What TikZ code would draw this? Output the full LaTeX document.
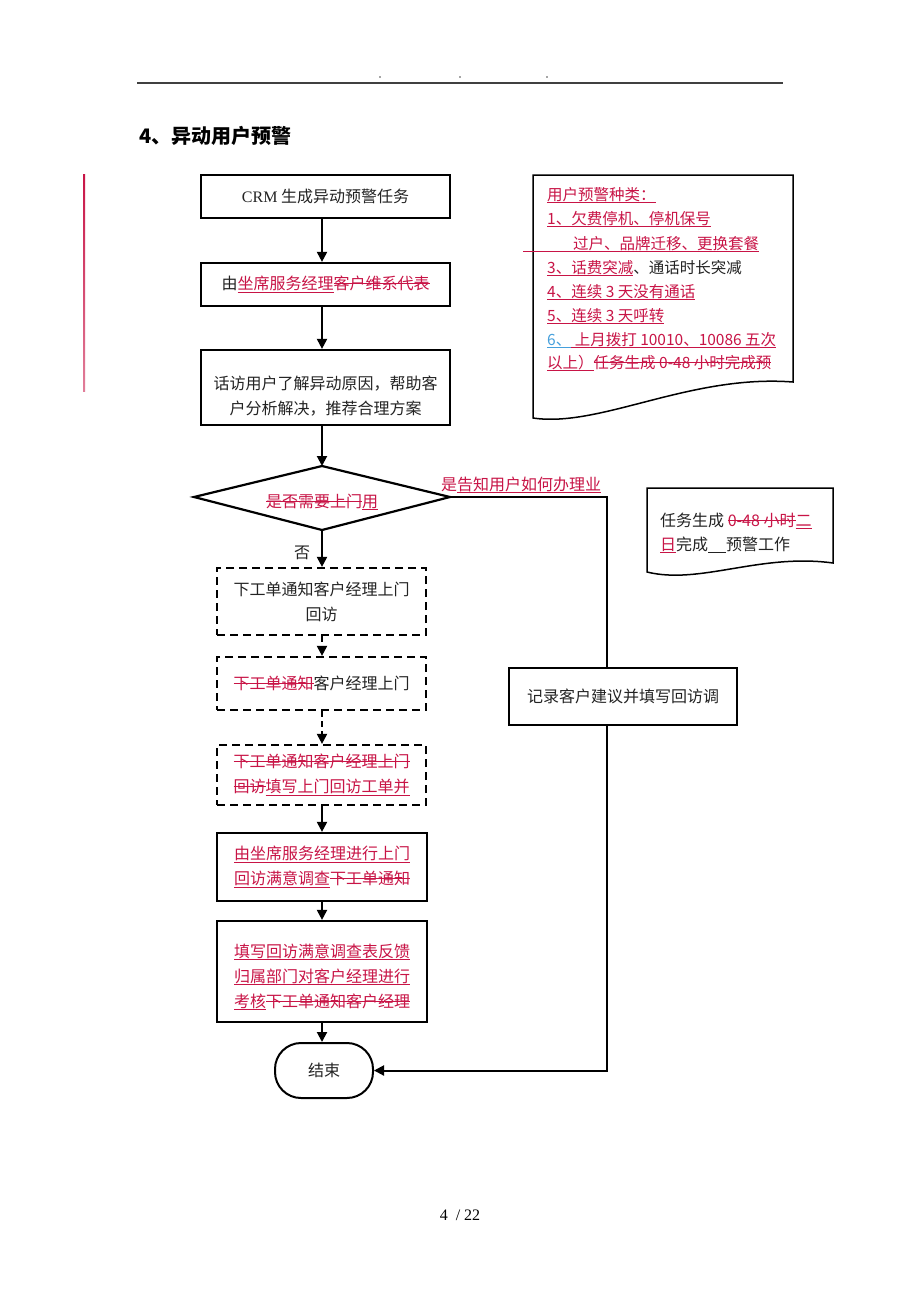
\documentclass[tikz,border=0pt]{standalone}
\usepackage{fontspec}
\setmainfont{Liberation Serif}
\newfontfamily\cjk{Noto Sans CJK SC}
\usetikzlibrary{arrows.meta}
\definecolor{rd}{RGB}{200,20,70}
\definecolor{bl}{RGB}{70,160,220}
\definecolor{tx}{RGB}{35,35,35}
\newcommand{\myul}[1]{\setbox0\hbox{#1}\rlap{\rule[-3pt]{\wd0}{1pt}}\box0}
\newcommand{\myso}[1]{\setbox0\hbox{#1}\rlap{\rule[5.5pt]{\wd0}{1pt}}\box0}
\newcommand{\redu}[1]{\textcolor{rd}{\myul{#1}}}
\newcommand{\reds}[1]{\textcolor{rd}{\myso{#1}}}
\begin{document}
\begin{tikzpicture}[x=1pt,y=-1pt,
  every node/.style={font=\cjk\fontsize{16}{25}\selectfont, text=tx, inner sep=0pt},
  box/.style={draw=black, line width=2.2pt, align=center},
  dbox/.style={draw=black, line width=2.2pt, dash pattern=on 8pt off 5pt, align=center},
  arr/.style={line width=2pt, -{Triangle[length=10pt,width=10pt]}},
  darr/.style={line width=2pt, dash pattern=on 6pt off 4pt, -{Triangle[length=10pt,width=10pt]}},
  doc/.style={draw=black, line width=1.5pt},
  doctext/.style={anchor=base west, font=\cjk\fontsize{15.5}{24}\selectfont}]
\fill[white] (0,0) rectangle (920,1302);
\useasboundingbox (0,0) rectangle (920,1302);

% header
\draw[black!75, line width=1.2pt] (137,83) -- (783,83);
\foreach \xx in {380,460,547} \fill[black!70] (\xx,77) circle (0.8pt);
\node[anchor=base west, font=\cjk\bfseries\fontsize{20}{24}\selectfont, text=black] (title) at (139,143) {4、异动用户预警};
\shade[top color=rd, bottom color=rd!55] (83,174) rectangle (85,391);

% main column
\node[box, minimum width=249pt, minimum height=43pt] (b1) at (325.5,196.5) {{\rmfamily CRM} 生成异动预警任务};
\node[box, minimum width=249pt, minimum height=43pt] (b2) at (325.5,284.5) {由\redu{坐席服务经理}\reds{客户维系代表}};
\node[box, minimum width=249pt, minimum height=75pt] (b3) at (325.5,387.5) {};
\node[align=center] (b3t) at (325.5,396) {话访用户了解异动原因，帮助客\\户分析解决，推荐合理方案};

\coordinate (dtop) at (322,466);
\coordinate (dbot) at (322,530);
\coordinate (dleft) at (194,497);
\coordinate (dright) at (450,497);
\draw[line width=2.2pt, line join=miter] (dtop) -- (dright) -- (dbot) -- (dleft) -- cycle;
\node (dtext) at (322,502) {\reds{是否需要上门}\redu{用}};

\node[dbox, minimum width=209pt, minimum height=67pt] (da) at (321.5,601.5) {下工单通知客户经理上门\\回访};
\node[dbox, minimum width=209pt, minimum height=53pt] (db) at (321.5,683.5) {\reds{下工单通知}客户经理上门};
\node[dbox, minimum width=209pt, minimum height=60pt] (dc) at (321.5,775) {\reds{下工单通知客户经理上门}\\\reds{回访}\redu{填写上门回访工单并}};
\node[box, minimum width=210pt, minimum height=68pt] (bd) at (322,867) {\redu{由坐席服务经理进行上门}\\\redu{回访满意调查}\reds{下工单通知}};
\node[box, minimum width=210pt, minimum height=101pt] (be) at (322,971.5) {};
\node[align=center] (bet) at (322,977) {\redu{填写回访满意调查表反馈}\\\redu{归属部门对客户经理进行}\\\redu{考核}\reds{下工单通知客户经理}};
\node[draw=black, line width=2pt, rounded corners=26pt, minimum width=98pt, minimum height=55pt] (end) at (324,1070.5) {结束};

\node[box, minimum width=228pt, minimum height=57pt] (rb) at (623,696.5) {记录客户建议并填写回访调};

% labels
\node[anchor=base west] (yes) at (441,490) {\textcolor{rd}{是}\redu{告知用户如何办理业}};
\node (no) at (302,553) {否};

% connectors
\draw[arr] (b1.south -| dtop) -- (b2.north -| dtop);
\draw[arr] (b2.south -| dtop) -- (b3.north -| dtop);
\draw[arr] (b3.south -| dtop) -- (dtop);
\draw[arr] (dbot) -- (da.north -| dbot);
\draw[darr] (da.south -| dtop) -- (db.north -| dtop);
\draw[darr] (db.south -| dtop) -- (dc.north -| dtop);
\draw[arr] (dc.south -| dtop) -- (bd.north -| dtop);
\draw[arr] (bd.south -| dtop) -- (be.north -| dtop);
\draw[arr] (be.south -| dtop) -- (end.north -| dtop);
\draw[line width=2pt] (dright) -| ([xshift=-16pt]rb.north);
\draw[arr] ([xshift=-16pt]rb.south) |- (end.east);

% document shape 1
\draw[doc] (533,175) -- (793,175) -- (793,382) .. controls (690,374) and (600,428) .. (533,418) -- cycle;
\node[doctext] (t1) at (547,200) {\redu{用户预警种类：}};
\node[doctext] (t2) at (547,224) {\redu{1、欠费停机、停机保号}};
\node[doctext] (t3) at (523,249) {\redu{\hspace*{50pt}过户、品牌迁移、更换套餐}};
\node[doctext] (t4) at (547,273) {\redu{3、话费突减}、通话时长突减};
\node[doctext] (t5) at (547,297) {\redu{4、连续 3 天没有通话}};
\node[doctext] (t6) at (547,321) {\redu{5、连续 3 天呼转}};
\node[doctext] (t7) at (547,345) {\textcolor{bl}{\myul{6、}}\redu{\ 上月拨打 10010、10086 五次}};
\node[doctext] (t8) at (547,368) {\redu{以上）}\reds{任务生成 0-48 小时完成预}};

% document shape 2
\draw[doc] (647,488) -- (833,488) -- (833,563) .. controls (760,553) and (700,585) .. (647,572) -- cycle;
\node[doctext, font=\cjk\fontsize{16}{24}\selectfont] (u1) at (660,526) {任务生成 \reds{0-48 小时}\redu{二}};
\node[doctext, font=\cjk\fontsize{16}{24}\selectfont] (u2) at (660,550) {\redu{日}完成\rule[-3pt]{18pt}{1pt}预警工作};

% page number
\node[font=\rmfamily\fontsize{16}{20}\selectfont, text=black] (pg) at (460,1215) {4\ \ / 22};
\end{tikzpicture}
\end{document}
